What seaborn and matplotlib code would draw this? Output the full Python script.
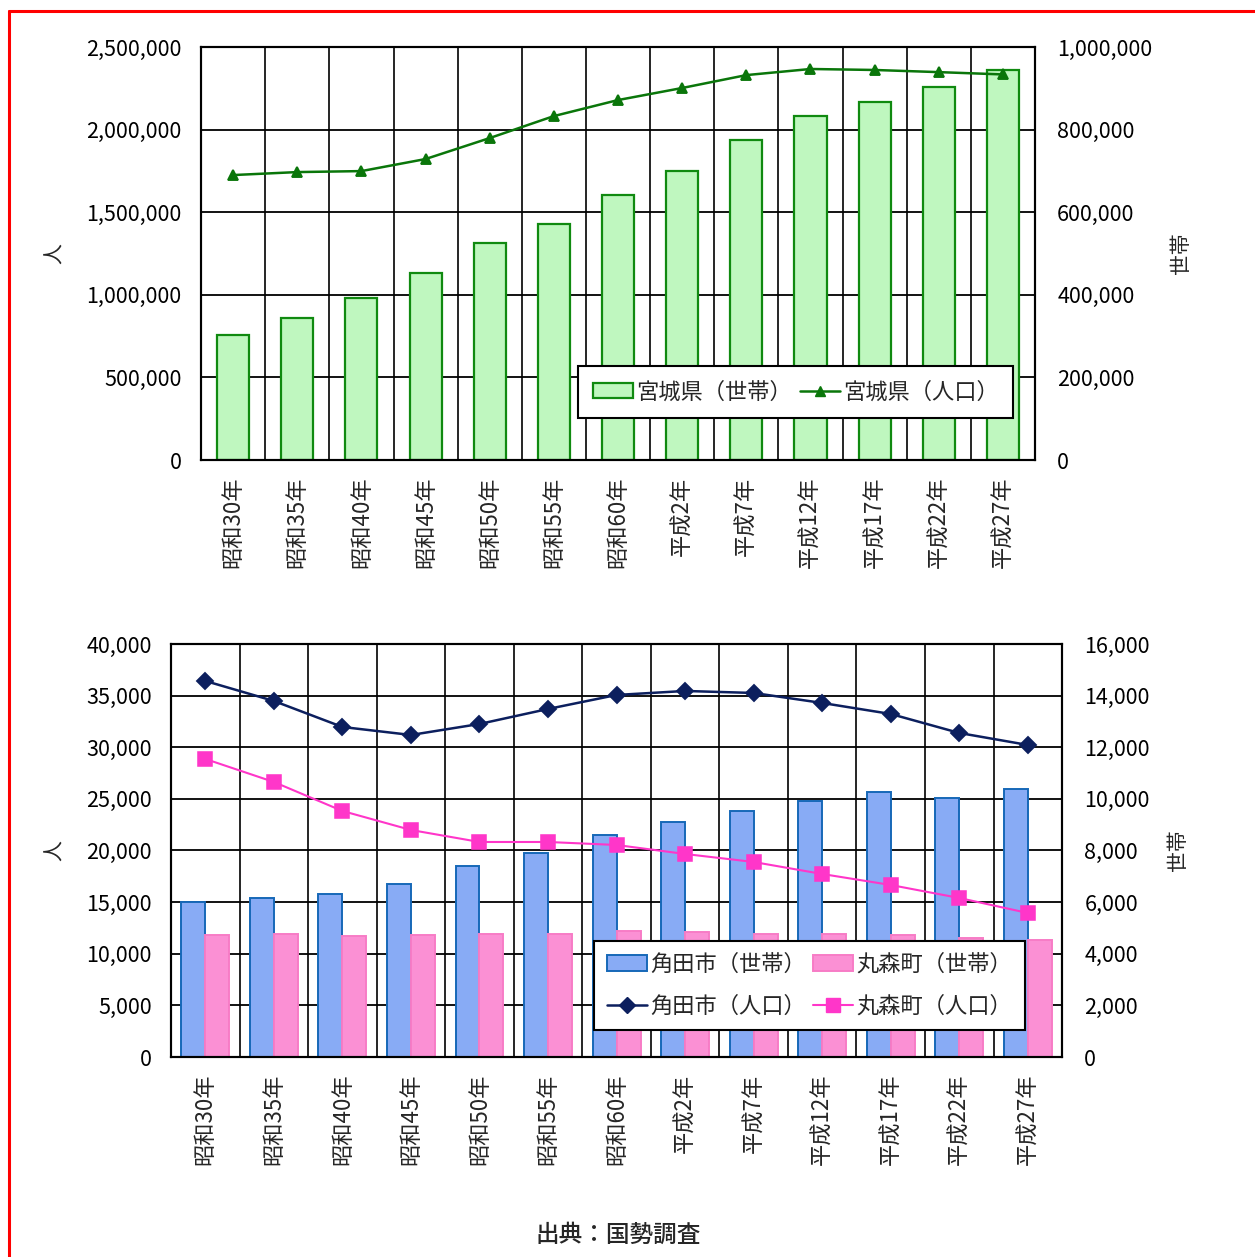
import numpy as np
import pandas as pd
import matplotlib
matplotlib.use('Agg')
import matplotlib.pyplot as plt
import seaborn as sns
from matplotlib.lines import Line2D
from matplotlib.patches import Patch
from matplotlib.ticker import FuncFormatter, MultipleLocator, FixedLocator

years = ['昭和30年', '昭和35年', '昭和40年', '昭和45年', '昭和50年', '昭和55年', '昭和60年',
         '平成2年', '平成7年', '平成12年', '平成17年', '平成22年', '平成27年']

# 宮城県
miyagi_households = [303000, 344000, 392000, 453000, 525000, 571000, 642000,
                     700000, 775000, 833000, 867000, 903000, 944000]
miyagi_population = [1725000, 1743000, 1749000, 1822000, 1949000, 2082000, 2179000,
                     2252000, 2330000, 2367000, 2361000, 2348000, 2334000]

# 角田市 / 丸森町
kakuda_households = [6005, 6160, 6315, 6702, 7400, 7903, 8600,
                     9104, 9530, 9918, 10266, 10034, 10383]
marumori_households = [4726, 4765, 4688, 4726, 4765, 4765, 4881,
                       4843, 4765, 4765, 4726, 4610, 4533]
kakuda_population = [36416, 34479, 31961, 31186, 32252, 33705, 35061,
                     35448, 35254, 34286, 33220, 31380, 30218]
marumori_population = [28862, 26634, 23826, 21985, 20823, 20823, 20533,
                       19661, 18886, 17724, 16659, 15400, 13947]

sns.set_theme(style='white')
plt.rcParams['font.family'] = ['Noto Sans CJK JP', 'DejaVu Sans']

comma = FuncFormatter(lambda v, p: f'{int(v):,}')


def style_pair(ax, axb, left_max, left_step, right_max, right_step, lab_left_x, lab_right_x):
    # ax: lines (left scale, drawn on top), axb: bars (right scale)
    ax.set_zorder(axb.get_zorder() + 1)
    ax.patch.set_visible(False)
    axb.patch.set_visible(False)

    ax.set_ylim(0, left_max)
    ax.yaxis.set_major_locator(MultipleLocator(left_step))
    ax.yaxis.set_major_formatter(comma)
    axb.set_ylim(0, right_max)
    axb.yaxis.set_major_locator(MultipleLocator(right_step))
    axb.yaxis.set_major_formatter(comma)
    ax.set_xlim(-0.5, len(years) - 0.5)

    ax.grid(False)
    axb.grid(False)
    axb.set_axisbelow(True)
    axb.yaxis.grid(True, color='black', linewidth=1.3)
    ax.xaxis.set_minor_locator(FixedLocator(np.arange(0.5, len(years) - 0.5, 1)))
    ax.grid(which='minor', axis='x', color='black', linewidth=1.2)

    ax.tick_params(axis='y', length=0, pad=14, labelsize=15.5, colors='black')
    axb.tick_params(axis='y', length=0, pad=16, labelsize=15.5, colors='black')
    ax.tick_params(axis='x', which='both', length=0, pad=12, labelsize=16, rotation=90)
    ax.set_xlabel('')
    axb.set_xlabel('')

    for a in (ax, axb):
        for s in a.spines.values():
            s.set_color('black')
            s.set_linewidth(1.5)

    ax.set_ylabel('人', fontsize=15, rotation=90)
    ax.yaxis.set_label_coords(lab_left_x, 0.5)
    axb.set_ylabel('世帯', fontsize=15, rotation=90)
    axb.yaxis.set_label_coords(lab_right_x, 0.5)


fig = plt.figure(figsize=(12.55, 12.57), dpi=100)
fig.patch.set_facecolor('white')

# ---- 上段：宮城県 ----
ax1 = fig.add_axes([0.1602, 0.6340, 0.6645, 0.3286])
ax1b = ax1.twinx()
sns.barplot(x=years, y=miyagi_households, ax=ax1b, color='#bff7bf', edgecolor='#108a10',
            linewidth=1.6, width=0.5, saturation=1)
sns.pointplot(x=years, y=miyagi_population, ax=ax1, color='#0a760a', markers='^',
              markersize=7, linewidth=1.8, errorbar=None)
style_pair(ax1, ax1b, 2500000, 500000, 1000000, 200000, -0.162, 1.162)

h1 = [Patch(facecolor='#bff7bf', edgecolor='#108a10', linewidth=1.6),
      Line2D([], [], color='#0a760a', marker='^', markersize=7, linewidth=1.8)]
leg1 = ax1.legend(h1, ['宮城県（世帯）', '宮城県（人口）'], ncol=2, loc='lower right',
                  bbox_to_anchor=(0.974, 0.102), fontsize=16, frameon=True, fancybox=False,
                  framealpha=1, edgecolor='black', handlelength=1.8, handletextpad=0.15,
                  columnspacing=0.35, borderpad=0.65, borderaxespad=0)
leg1.get_frame().set_linewidth(1.5)

# ---- 下段：角田市・丸森町 ----
ax2 = fig.add_axes([0.1363, 0.1591, 0.7100, 0.3286])
ax2b = ax2.twinx()
hh = pd.DataFrame({'year': years * 2,
                   'households': kakuda_households + marumori_households,
                   'town': ['角田市'] * len(years) + ['丸森町'] * len(years)})
sns.barplot(data=hh, x='year', y='households', hue='town', ax=ax2b,
            palette={'角田市': '#88abf5', '丸森町': '#fb90d4'}, width=0.7, gap=0,
            saturation=1, legend=False, linewidth=1.4)
for cont, ec in zip(ax2b.containers, ['#1668b8', '#f77cc6']):
    for bar in cont:
        bar.set_edgecolor(ec)
sns.pointplot(x=years, y=kakuda_population, ax=ax2, color='#0c1f5e', markers='D',
              markersize=8, linewidth=1.8, errorbar=None)
sns.pointplot(x=years, y=marumori_population, ax=ax2, color='#ff36c9', markers='s',
              markersize=10, linewidth=1.5, errorbar=None)
style_pair(ax2, ax2b, 40000, 5000, 16000, 2000, -0.118, 1.1175)

h2 = [Patch(facecolor='#88abf5', edgecolor='#1668b8', linewidth=1.4),
      Line2D([], [], color='#0c1f5e', marker='D', markersize=8, linewidth=1.8),
      Patch(facecolor='#fb90d4', edgecolor='#f77cc6', linewidth=1.4),
      Line2D([], [], color='#ff36c9', marker='s', markersize=10, linewidth=1.5)]
leg2 = ax2.legend(h2, ['角田市（世帯）', '角田市（人口）', '丸森町（世帯）', '丸森町（人口）'],
                  ncol=2, loc='lower right', bbox_to_anchor=(0.958, 0.065), fontsize=16,
                  frameon=True, fancybox=False, framealpha=1, edgecolor='black',
                  handlelength=1.8, handletextpad=0.15, columnspacing=0.35,
                  labelspacing=0.85, borderpad=0.55, borderaxespad=0)
leg2.get_frame().set_linewidth(1.5)

fig.text(618 / 1255, 1 - 1235 / 1257, '出典：国勢調査', ha='center', va='center',
         fontsize=17, fontweight='medium')

# 赤い枠線（左・上）
fig.add_artist(Line2D([9 / 1255, 9 / 1255], [0, 1 - 11 / 1257], transform=fig.transFigure,
                      color='red', linewidth=2.2))
fig.add_artist(Line2D([9 / 1255, 1], [1 - 11 / 1257, 1 - 11 / 1257], transform=fig.transFigure,
                      color='red', linewidth=2.2))

fig.savefig('out.png', dpi=100)
